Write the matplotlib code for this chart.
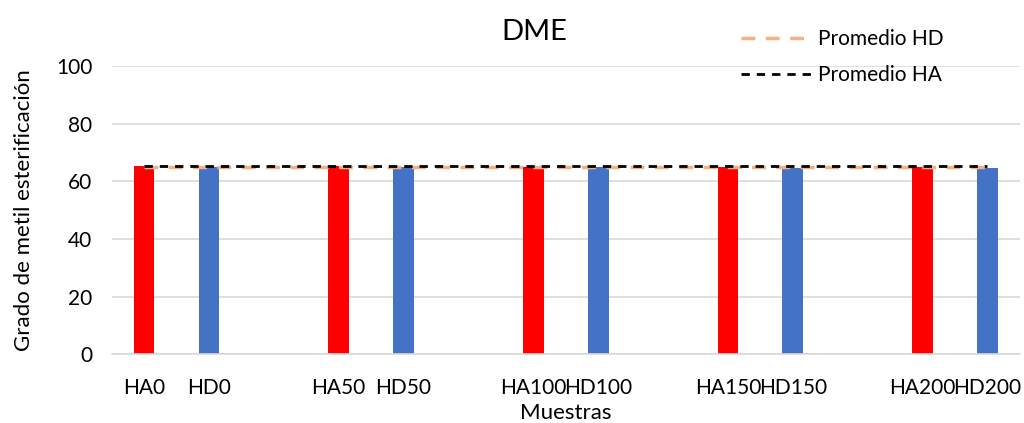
import matplotlib
matplotlib.use("Agg")
import matplotlib.pyplot as plt
import numpy as np

categories = ["HA0", "HD0", "", "HA50", "HD50", "", "HA100", "HD100", "",
              "HA150", "HD150", "", "HA200", "HD200"]
ha_labels = ["HA0", "HA50", "HA100", "HA150", "HA200"]
hd_labels = ["HD0", "HD50", "HD100", "HD150", "HD200"]
ha_values = [65.5, 65.3, 65.2, 65.0, 65.2]
hd_values = [65.0, 64.9, 65.0, 64.8, 64.7]

plt.rcParams['font.family'] = ['Lato', 'DejaVu Sans']

fig = plt.figure(figsize=(10.24, 4.23), dpi=100)
ax = fig.add_axes([0.109, 0.163, 0.887, 0.68])

x = np.arange(len(categories))
ha_x = [categories.index(c) for c in ha_labels]
hd_x = [categories.index(c) for c in hd_labels]
w = 0.32
ax.bar(ha_x, ha_values, width=w, color="#FF0000", zorder=2)
ax.bar(hd_x, hd_values, width=w, color="#4472C4", zorder=2)

avg_hd = np.mean(hd_values)
avg_ha = np.mean(ha_values)
ax.plot(x, [avg_hd] * len(x), color="#F4B183", linestyle=(0, (4, 3)), lw=2.5,
        label="Promedio HD", zorder=3)
ax.plot(x, [avg_ha] * len(x), color="black", linestyle=(0, (3, 2.5)), lw=2,
        label="Promedio HA", zorder=4)

ax.set_xlim(-0.5, len(categories) - 0.5)
ax.set_ylim(0, 100)
ax.set_yticks([0, 20, 40, 60, 80, 100])
ax.yaxis.grid(True, color="#D9D9D9", lw=1.2, zorder=0)
ax.set_axisbelow(True)
for s in ["top", "right", "left"]:
    ax.spines[s].set_visible(False)
ax.spines["bottom"].set_color("#D9D9D9")
ax.spines["bottom"].set_linewidth(1.2)
ax.set_xticks(x)
ax.set_xticklabels(categories, fontsize=15)
ax.tick_params(axis="x", length=0, pad=17)
ax.tick_params(axis="y", length=0, labelsize=15, pad=14)
ax.set_xlabel("Muestras", fontsize=16, labelpad=4)
ax.set_ylabel("Grado de metil esterificación", fontsize=16, labelpad=16)
fig.text(0.522, 0.925, "DME", fontsize=21, ha="center", va="center")

leg = fig.legend(loc="upper right", bbox_to_anchor=(0.94, 0.975), frameon=False,
                 fontsize=15, handlelength=3.4, labelspacing=0.75, handletextpad=0.3)

fig.savefig("out.png", dpi=100)
